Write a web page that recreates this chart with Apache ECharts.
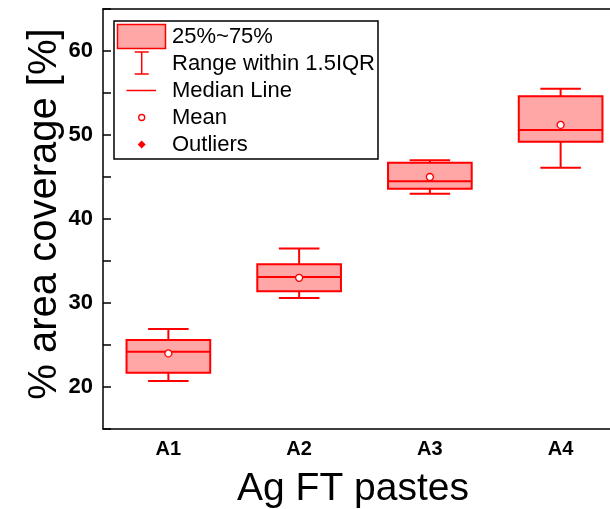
<!DOCTYPE html>
<html>
<head>
<meta charset="utf-8">
<script src="https://cdn.jsdelivr.net/npm/echarts@6/dist/echarts.min.js"></script>
<style>
  html, body { margin: 0; padding: 0; background: #fff; }
  #chart { width: 610px; height: 509px; }
</style>
</head>
<body>
<div id="chart"></div>
<script>
var categories = ['A1', 'A2', 'A3', 'A4'];
var lowerWhisker = [20.7, 30.6, 43.0, 46.1];
var q1Values = [21.7, 31.4, 43.6, 49.2];
var medians = [24.2, 33.1, 44.5, 50.6];
var q3Values = [25.6, 34.6, 46.7, 54.6];
var upperWhisker = [26.9, 36.5, 47.0, 55.5];
var means = [24.0, 33.0, 45.0, 51.2];
var legendLabels = ['25%~75%', 'Range within 1.5IQR', 'Median Line', 'Mean', 'Outliers'];

var FONT = '"Liberation Sans", Arial, sans-serif';
var RED = '#ff0000';
var FILL = '#ffa6a6';

var chart = echarts.init(document.getElementById('chart'));

var boxData = categories.map(function (c, i) {
    return [i, lowerWhisker[i], q1Values[i], medians[i], q3Values[i], upperWhisker[i]];
});
var meanData = categories.map(function (c, i) {
    return [i, means[i]];
});

function renderBox(params, api) {
    var x = api.value(0);
    var lo = api.coord([x, api.value(1)]);
    var q1 = api.coord([x, api.value(2)]);
    var med = api.coord([x, api.value(3)]);
    var q3 = api.coord([x, api.value(4)]);
    var hi = api.coord([x, api.value(5)]);
    var band = api.size([1, 0])[0];
    var bw = band * 0.64;
    var cw = band * 0.31;
    var cx = med[0];
    var ls = { stroke: RED, lineWidth: 2 };
    return {
        type: 'group',
        children: [
            { type: 'line', shape: { x1: cx, y1: hi[1], x2: cx, y2: q3[1] }, style: ls },
            { type: 'line', shape: { x1: cx, y1: q1[1], x2: cx, y2: lo[1] }, style: ls },
            { type: 'line', shape: { x1: cx - cw / 2, y1: hi[1], x2: cx + cw / 2, y2: hi[1] }, style: ls },
            { type: 'line', shape: { x1: cx - cw / 2, y1: lo[1], x2: cx + cw / 2, y2: lo[1] }, style: ls },
            { type: 'rect', shape: { x: cx - bw / 2, y: q3[1], width: bw, height: q1[1] - q3[1] },
              style: { fill: FILL, stroke: RED, lineWidth: 2 } },
            { type: 'line', shape: { x1: cx - bw / 2, y1: med[1], x2: cx + bw / 2, y2: med[1] }, style: ls }
        ]
    };
}

// legend drawn by hand, the symbols don't exist in the normal legend
var lx = 141.7;
var rowY = [36.5, 63.5, 90.5, 117.5, 144.5];
var legendGraphic = [
    { type: 'rect', shape: { x: 114, y: 21, width: 264, height: 138 },
      style: { fill: '#fff', stroke: '#000', lineWidth: 1.5 }, z: 100 },
    { type: 'rect', shape: { x: 117.5, y: 24.5, width: 48, height: 24 },
      style: { fill: FILL, stroke: RED, lineWidth: 1.5 }, z: 101 },
    { type: 'line', shape: { x1: lx, y1: 52, x2: lx, y2: 74 }, style: { stroke: RED, lineWidth: 1.5 }, z: 101 },
    { type: 'line', shape: { x1: lx - 7, y1: 52, x2: lx + 7, y2: 52 }, style: { stroke: RED, lineWidth: 1.5 }, z: 101 },
    { type: 'line', shape: { x1: lx - 7, y1: 74, x2: lx + 7, y2: 74 }, style: { stroke: RED, lineWidth: 1.5 }, z: 101 },
    { type: 'line', shape: { x1: 126.5, y1: rowY[2], x2: 156, y2: rowY[2] }, style: { stroke: RED, lineWidth: 1.5 }, z: 101 },
    { type: 'circle', shape: { cx: lx, cy: rowY[3], r: 3 }, style: { fill: '#fff', stroke: RED, lineWidth: 1.3 }, z: 101 },
    { type: 'polygon', shape: { points: [[lx, rowY[4] - 4], [lx + 4, rowY[4]], [lx, rowY[4] + 4], [lx - 4, rowY[4]]] },
      style: { fill: RED }, z: 101 }
];
legendLabels.forEach(function (t, i) {
    legendGraphic.push({
        type: 'text', x: 172, y: rowY[i], z: 101,
        style: { text: t, font: '22px ' + FONT, fill: '#000', verticalAlign: 'middle', align: 'left' }
    });
});

var option = {
    backgroundColor: '#fff',
    animation: false,
    grid: { left: 103, top: 9, width: 523, height: 420, outerBoundsMode: 'none' },
    xAxis: [{
        type: 'category',
        data: categories,
        boundaryGap: true,
        name: 'Ag FT pastes',
        nameLocation: 'middle',
        nameGap: 41,
        nameMoveOverlap: false,
        nameTextStyle: { fontFamily: FONT, fontSize: 39, color: '#000', padding: [0, 23, 0, 0] },
        axisLine: { lineStyle: { color: '#000', width: 1.5 } },
        axisTick: { inside: true, length: 8, alignWithLabel: true, lineStyle: { color: '#000', width: 1.5 } },
        axisLabel: { fontFamily: FONT, fontWeight: 'bold', fontSize: 20, color: '#000', margin: 10 },
        splitLine: { show: false }
    }, {
        type: 'category',
        data: categories,
        position: 'top',
        boundaryGap: true,
        axisLine: { lineStyle: { color: '#000', width: 1.5 } },
        axisTick: { inside: true, length: 8, alignWithLabel: true, lineStyle: { color: '#000', width: 1.5 } },
        axisLabel: { show: false },
        splitLine: { show: false }
    }],
    yAxis: {
        type: 'value',
        min: 15,
        max: 65,
        interval: 5,
        name: '% area coverage [%]',
        nameLocation: 'middle',
        nameGap: 38,
        nameMoveOverlap: false,
        nameTextStyle: { fontFamily: FONT, fontSize: 40, color: '#000', padding: [0, 0, 0, 10] },
        axisLine: { show: true, lineStyle: { color: '#000', width: 1.5 } },
        axisTick: { show: true, inside: true, length: 8, lineStyle: { color: '#000', width: 1.5 } },
        axisLabel: {
            fontFamily: FONT, fontWeight: 'bold', fontSize: 22, color: '#000', margin: 10,
            formatter: function (v) { return v % 10 === 0 ? String(v) : ''; }
        },
        splitLine: { show: false }
    },
    series: [{
        type: 'custom',
        renderItem: renderBox,
        data: boxData,
        encode: { x: 0, y: [1, 2, 3, 4, 5] },
        z: 5
    }, {
        type: 'scatter',
        data: meanData,
        symbol: 'circle',
        symbolSize: 7,
        itemStyle: { color: '#fff', borderColor: RED, borderWidth: 1.3, opacity: 1 },
        z: 6
    }],
    graphic: legendGraphic
};

chart.setOption(option);
</script>
</body>
</html>
